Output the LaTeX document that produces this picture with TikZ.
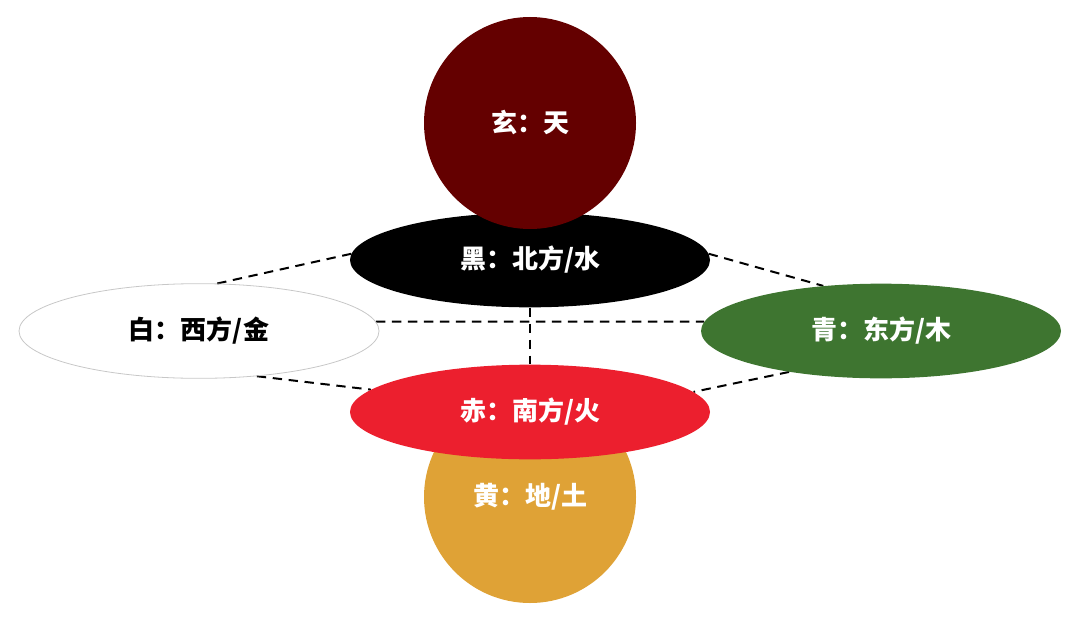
\documentclass[tikz,border=0pt]{standalone}
\usepackage{fontspec}
\newfontfamily\cjk{Noto Sans CJK SC}
\usepackage{tikz}
\usetikzlibrary{shapes.geometric,backgrounds}
\usepackage{xcolor}
\definecolor{xuancol}{HTML}{640000}
\definecolor{qingcol}{HTML}{3E7530}
\definecolor{chicol}{HTML}{EC1F2E}
\definecolor{huangcol}{HTML}{DFA236}

\begin{document}
\begin{tikzpicture}[x=0.75pt,y=-0.75pt,font=\cjk\bfseries\fontsize{19.5}{22}\selectfont,
  disc/.style={circle,inner sep=0pt,minimum size=159pt,text=white},
  oval/.style={ellipse,inner sep=0pt,minimum width=270pt,minimum height=71pt},
  link/.style={dash pattern=on 7pt off 5pt,line width=1.5pt}]
\useasboundingbox (0,0) rectangle (1080,617);
\node[oval,fill=black,text=white] (hei) at (530,260) {黑：北方/水};
\node[disc,fill=xuancol] (xuan) at (530,123) {玄：天};
\node[oval,draw=black!22,line width=0.6pt] (bai) at (199,331) {白：西方/金};
\node[oval,fill=qingcol,text=white] (qing) at (881,331) {青：东方/木};
\node[disc,fill=huangcol] (huang) at (530,497) {黄：地/土};
\node[oval,fill=chicol,text=white] (chi) at (530,412) {赤：南方/火};
\begin{scope}[on background layer]
\draw[link] (bai.69) -- (hei.178);
\draw[link] (hei.2) -- (qing.142);
\draw[link] (bai.3) -- (qing.177);
\draw[link] (hei.south) -- (chi.north);
\draw[link] (bai.-38) -- (chi.172);
\draw[link] (qing.204) -- (chi.7);
\end{scope}
\end{tikzpicture}
\end{document}
